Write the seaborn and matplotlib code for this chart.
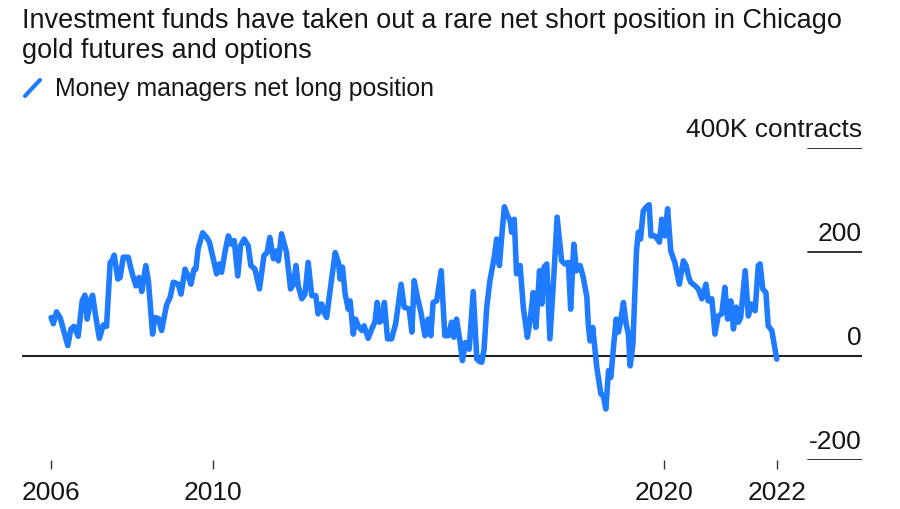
import matplotlib
matplotlib.use("Agg")
import matplotlib.pyplot as plt
import seaborn as sns
from matplotlib.lines import Line2D

# Money managers net long position, thousand contracts (weekly)
years = [2006.41, 2006.46, 2006.53, 2006.61, 2006.68, 2006.78, 2006.85, 2006.92, 2007.01, 2007.10,
         2007.16, 2007.21, 2007.29, 2007.33, 2007.40, 2007.48, 2007.57, 2007.64, 2007.72, 2007.75,
         2007.81, 2007.89, 2007.94, 2008.01, 2008.12, 2008.21, 2008.29, 2008.36, 2008.42, 2008.51,
         2008.57, 2008.66, 2008.71, 2008.79, 2008.86, 2008.97, 2009.05, 2009.12, 2009.23, 2009.29,
         2009.38, 2009.45, 2009.51, 2009.58, 2009.62, 2009.67, 2009.77, 2009.86, 2009.92, 2009.99,
         2010.08, 2010.14, 2010.19, 2010.27, 2010.34, 2010.41, 2010.47, 2010.55, 2010.61, 2010.69,
         2010.78, 2010.84, 2010.93, 2011.03, 2011.13, 2011.20, 2011.26, 2011.34, 2011.40, 2011.45,
         2011.52, 2011.57, 2011.63, 2011.72, 2011.78, 2011.84, 2011.89, 2011.97, 2012.04, 2012.11,
         2012.19, 2012.28, 2012.33, 2012.41, 2012.46, 2012.52, 2012.59, 2012.71, 2012.78,
         2012.82, 2012.87, 2012.93, 2013.00, 2013.04, 2013.11, 2013.16, 2013.22, 2013.30, 2013.35, 2013.44,
         2013.52, 2013.59, 2013.64, 2013.69, 2013.74, 2013.80, 2013.87, 2013.96, 2014.05, 2014.17,
         2014.24, 2014.35, 2014.41, 2014.46, 2014.54, 2014.61, 2014.70, 2014.77, 2014.83, 2014.88, 2014.96,
         2015.06, 2015.14, 2015.22, 2015.29, 2015.34, 2015.40, 2015.48, 2015.53, 2015.60,
         2015.68, 2015.77, 2015.85, 2015.92, 2015.96, 2016.01, 2016.07, 2016.14, 2016.23, 2016.29,
         2016.35, 2016.40, 2016.46, 2016.53, 2016.59, 2016.62, 2016.68, 2016.73, 2016.81, 2016.88,
         2016.97, 2017.03, 2017.10, 2017.16, 2017.24, 2017.29, 2017.34, 2017.40, 2017.47, 2017.56,
         2017.63, 2017.73, 2017.80, 2017.88, 2017.93, 2018.00, 2018.06, 2018.14, 2018.21, 2018.29,
         2018.32, 2018.36, 2018.42, 2018.51, 2018.60, 2018.65, 2018.71, 2018.77, 2018.82, 2018.88,
         2018.94, 2018.99, 2019.04, 2019.10, 2019.16, 2019.21, 2019.25, 2019.31, 2019.39, 2019.43,
         2019.48, 2019.54, 2019.60, 2019.67, 2019.71, 2019.80, 2019.90, 2019.95, 2020.02, 2020.08,
         2020.15, 2020.24, 2020.34, 2020.43, 2020.49, 2020.54, 2020.59, 2020.69, 2020.76, 2020.84,
         2020.93, 2020.98, 2021.06, 2021.13, 2021.20, 2021.28, 2021.35, 2021.41, 2021.48, 2021.54,
         2021.60, 2021.65, 2021.70, 2021.75, 2021.80, 2021.87, 2021.94, 2022.02, 2022.09, 2022.13,
         2022.19, 2022.26, 2022.31, 2022.39, 2022.50]
net_long = [74, 62, 85, 74, 52, 20, 52, 57, 38, 106,
            117, 71, 110, 117, 76, 34, 60, 57, 180, 181,
            194, 148, 151, 190, 190, 158, 135, 151, 124, 174,
            142, 42, 74, 72, 49, 98, 113, 142, 138, 119,
            167, 154, 138, 167, 167, 206, 237, 228, 219, 193,
            158, 177, 161, 202, 231, 215, 222, 154, 212, 225,
            212, 174, 167, 129, 193, 199, 228, 187, 202, 183,
            235, 219, 199, 129, 138, 174, 135, 110, 119, 180,
            116, 116, 81, 100, 84, 74, 122, 199, 180,
            148, 171, 119, 90, 106, 42, 71, 58, 49, 58, 34,
            52, 65, 103, 65, 68, 103, 33, 33, 62, 138,
            94, 90, 46, 145, 110, 84, 39, 71, 39, 103, 106,
            164, 39, 39, 65, 36, 71, 26, -9, 26,
            13, 124, -6, -11, -12, 13, 94, 145, 187, 225,
            174, 228, 287, 270, 260, 238, 263, 158, 174, 94,
            36, 68, 122, 55, 164, 100, 171, 177, 33, 158,
            267, 183, 177, 180, 90, 215, 164, 174, 151, 113,
            62, 29, 55, -22, -73, -76, -102, -28, -41, 17,
            71, 46, 68, 103, 62, 42, -19, 23, 202, 238,
            225, 279, 286, 291, 231, 231, 219, 263, 231, 283,
            202, 180, 138, 183, 174, 154, 142, 135, 129, 110,
            138, 106, 110, 42, 77, 81, 132, 71, 106, 52,
            94, 65, 74, 119, 164, 77, 100, 87, 174, 177,
            129, 122, 58, 49, -6]

x_ticks = [years[0], 2010, 2020, years[-1]]
x_labels = ["2006", "2010", "2020", "2022"]
y_levels = [400, 200, 0, -200]
y_labels = ["400K contracts", "200", "0", "-200"]

title = "Investment funds have taken out a rare net short position in Chicago\ngold futures and options"
legend_label = "Money managers net long position"

BLUE = "#1f7bff"
INK = "#161616"

sns.set_theme(style="white")
plt.rcParams["font.family"] = ["Liberation Sans", "DejaVu Sans"]

fig = plt.figure(figsize=(9, 5.1), dpi=100)
ax = fig.add_axes([22 / 900, 49 / 510, 840 / 900, 312 / 510])

sns.lineplot(x=years, y=net_long, ax=ax, color=BLUE, linewidth=4.0,
             estimator=None, solid_joinstyle="round", solid_capstyle="round", zorder=3)

ax.set_xlim(2005.765, 2024.39)
ax.set_ylim(-200, 400)
for s in ax.spines.values():
    s.set_visible(False)

ax.set_yticks([])
ax.set_xticks(x_ticks)
ax.set_xticklabels(x_labels, fontsize=19, color=INK)
ax.tick_params(axis="x", bottom=True, length=6.5, width=1, color="#333333",
               direction="out", pad=8)
ax.set_xlabel("")
ax.set_ylabel("")

# zero line across, short rules under the other labels
for v, lbl in zip(y_levels, y_labels):
    if v == 0:
        ax.axhline(v, color="#222222", lw=1.5, zorder=2)
    else:
        ax.axhline(v, xmin=0.936, xmax=1, color="#222222", lw=1.3)
    ax.annotate(lbl, xy=(1, v), xycoords=ax.get_yaxis_transform(),
                xytext=(0, 5), textcoords="offset points",
                ha="right", va="bottom", fontsize=19, color=INK)

fig.text(22 / 900, 1 - 8 / 510, title, ha="left", va="top",
         fontsize=19.5, color=INK, linespacing=1.2)

# legend: slanted blue stroke + label
fig.add_artist(Line2D([25 / 900, 40 / 900], [1 - 97 / 510, 1 - 81 / 510],
                      color=BLUE, lw=3, solid_capstyle="round"))
fig.text(55 / 900, 1 - 89 / 510, legend_label, ha="left", va="center",
         fontsize=17.9, color=INK)

fig.savefig("out.png", dpi=100, facecolor="white")
